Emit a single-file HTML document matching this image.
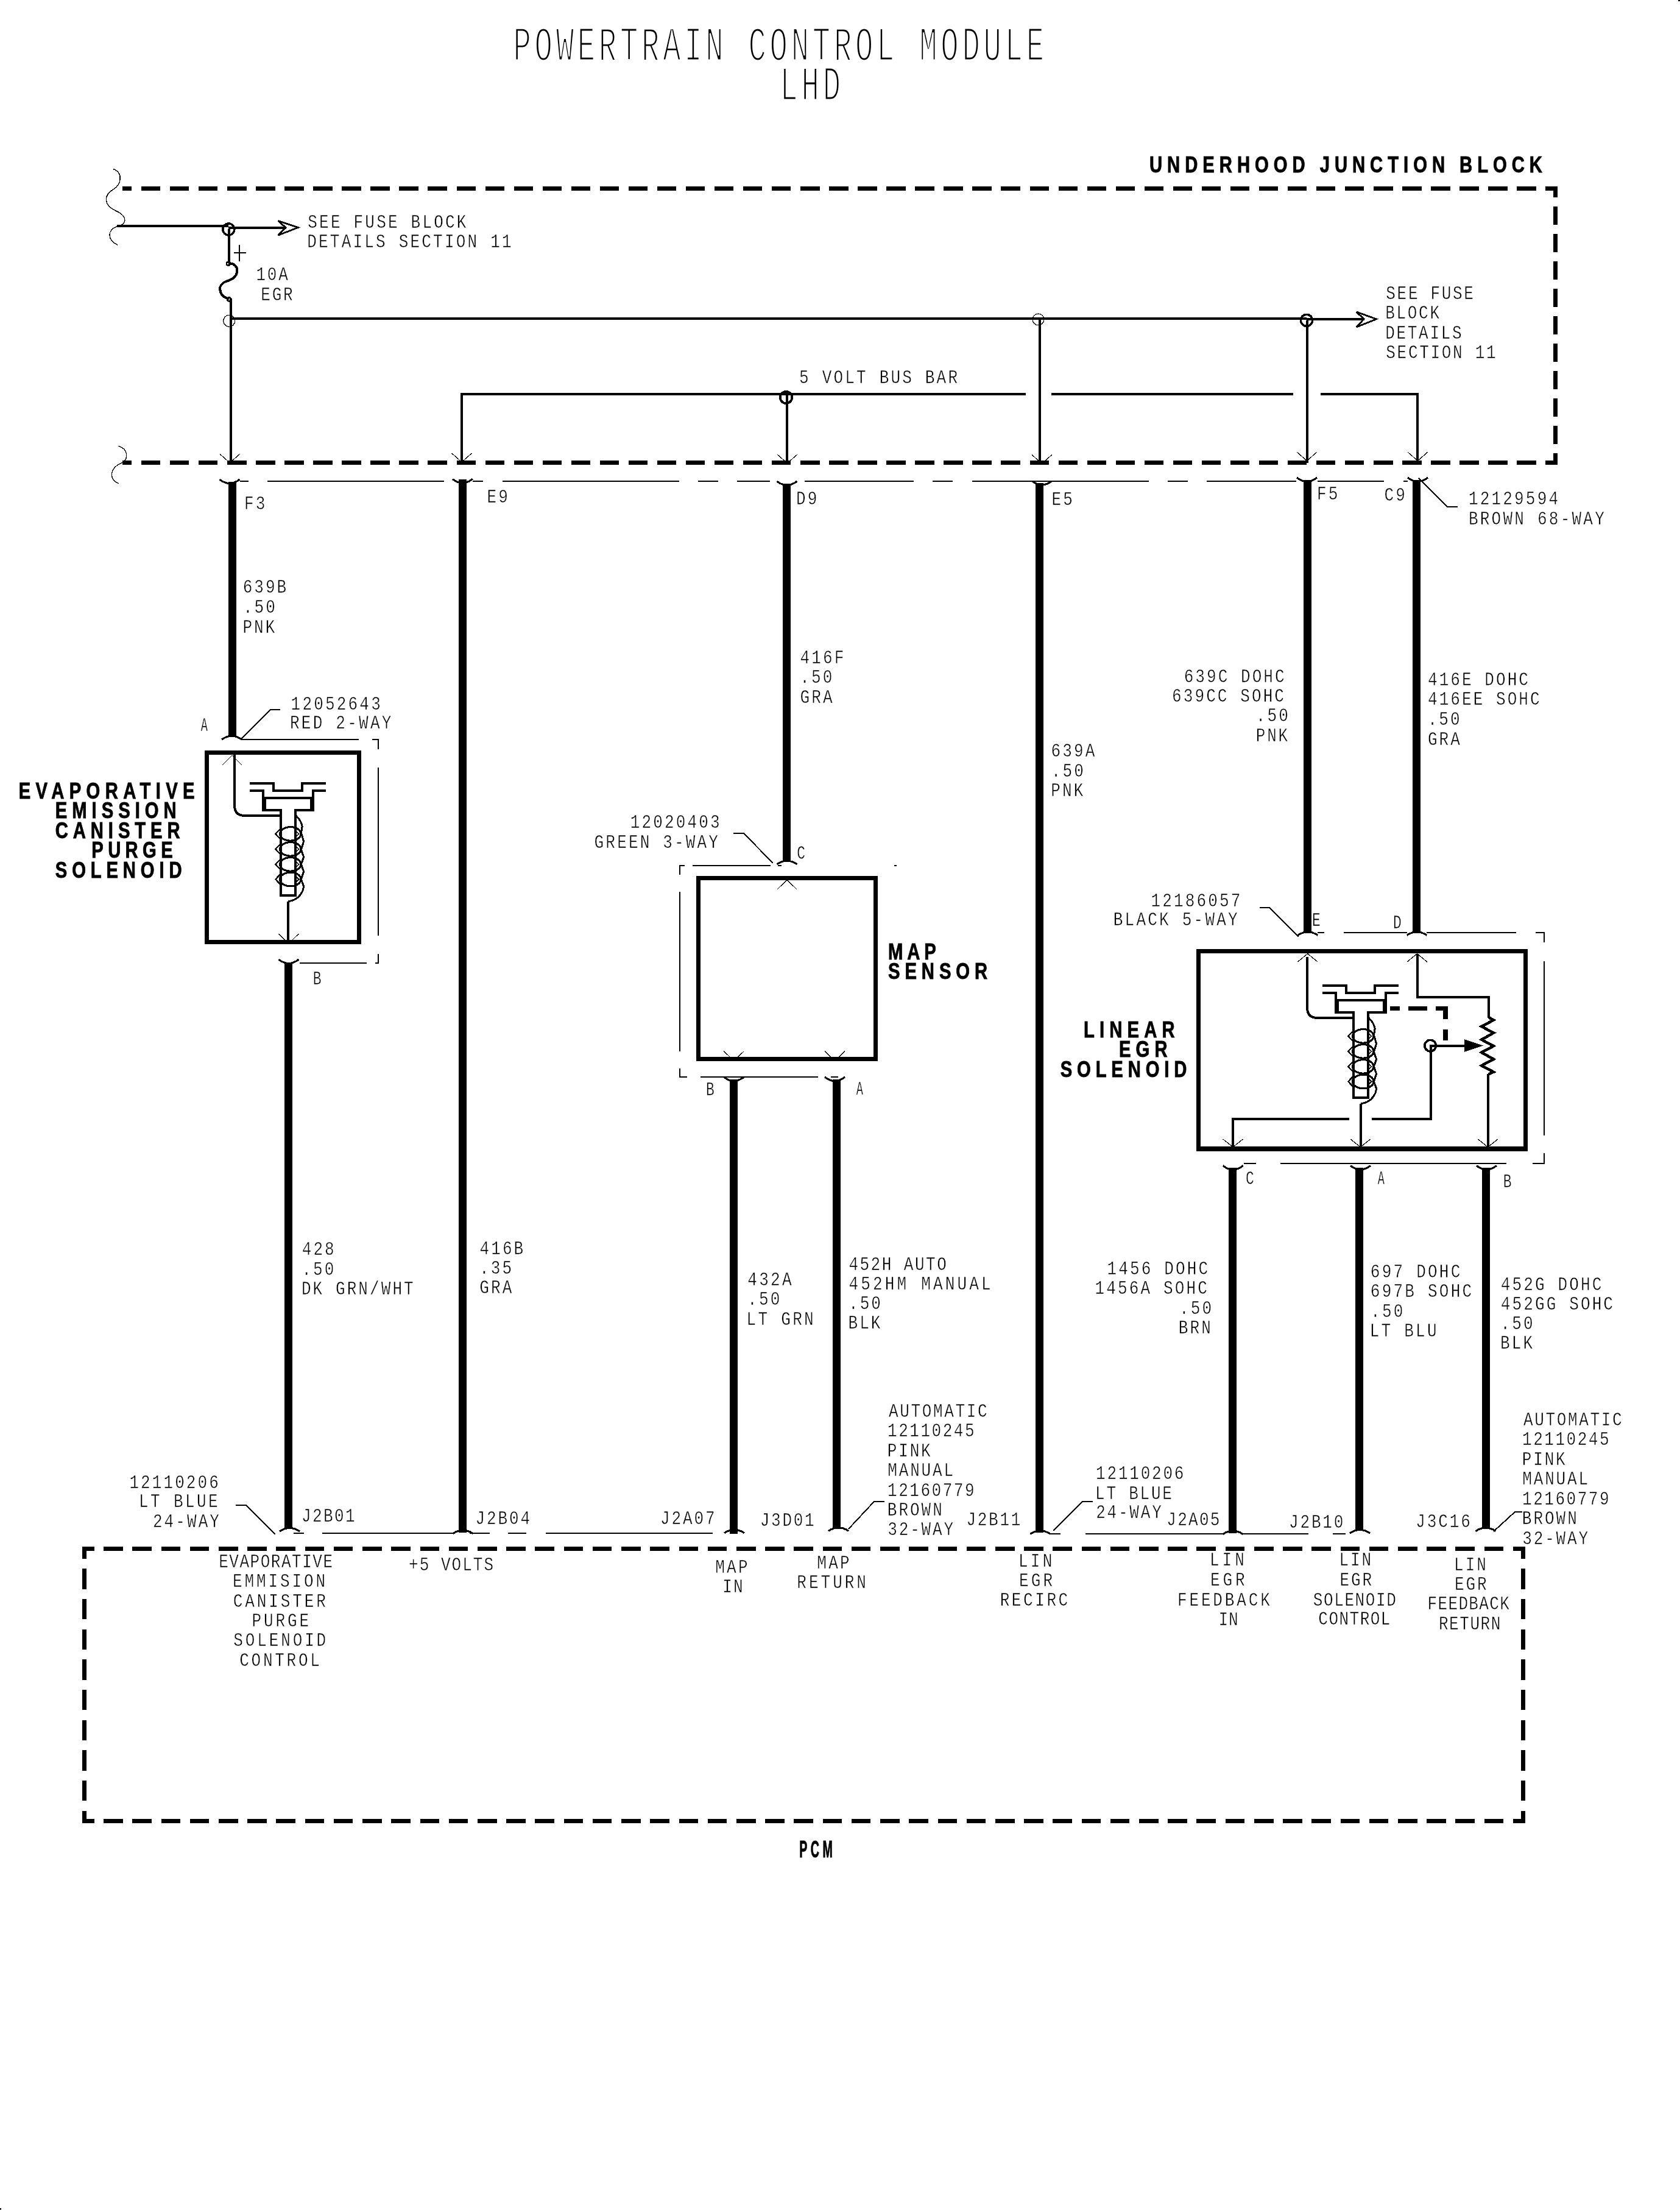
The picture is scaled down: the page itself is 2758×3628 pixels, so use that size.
<!DOCTYPE html>
<html><head><meta charset="utf-8"><title>Powertrain Control Module LHD</title>
<style>
html,body{margin:0;padding:0;background:#fff}
svg{display:block;filter:grayscale(1)}
.ln path,.ln circle,.ln rect{fill:none;stroke:#000}
.dash path{fill:none;stroke:#000;stroke-width:7}
text{font-family:"Liberation Mono",monospace;fill:#000}
.m{font-size:31px;stroke:#fff;stroke-width:.5px}
.ttl text{font-size:79px;stroke:#fff;stroke-width:3.2px}
.b{font-family:"Liberation Sans",sans-serif;font-weight:bold;stroke:#000;stroke-width:.9px}
</style></head>
<body>
<svg width="2758" height="3628" viewBox="0 0 2758 3628">
<rect width="2758" height="3628" fill="#fff"/>
<g class="ttl">
<text x="0" y="0" transform="translate(842.5 99.4) scale(0.62 1)" letter-spacing="9.2">POWERTRAIN CONTROL MODULE</text>
<text x="0" y="0" transform="translate(1280.5 163.5) scale(0.62 1)" letter-spacing="9.2">LHD</text>
</g>
<g class="dash" shape-rendering="crispEdges">
<path d="M200.6 309.4H2556.7" stroke-dasharray="31.4 15.65" stroke-dashoffset="15.7"/>
<path d="M200.6 759.5H2556.7" stroke-dasharray="31.4 15.65" stroke-dashoffset="15.7"/>
<path d="M2553.2 305.9V763" stroke-width="7.6" stroke-dasharray="30 15" stroke-dashoffset="11.5"/>
<path d="M135.2 2542.3H2503.8" stroke-dasharray="31.6 15.62" stroke-dashoffset="12.3"/>
<path d="M135.2 2989.3H2503.8" stroke-dasharray="31.6 15.62" stroke-dashoffset="12.3"/>
<path d="M138.7 2538.8V2992.8" stroke-dasharray="33.6 16.07" stroke-dashoffset="13.3"/>
<path d="M2500 2538.8V2992.8" stroke-width="7.8" stroke-dasharray="33.6 16.07" stroke-dashoffset="13.3"/>
</g>
<text class="b" transform="translate(1887.0 283.4) scale(0.78 1)" font-size="37.5" textLength="826.9" lengthAdjust="spacing">UNDERHOOD JUNCTION BLOCK</text>
<text class="b" transform="translate(30.7 1310.6) scale(0.78 1)" font-size="37.5" textLength="370.3" lengthAdjust="spacing">EVAPORATIVE</text>
<text class="b" transform="translate(90.8 1343.2) scale(0.78 1)" font-size="37.5" textLength="255.0" lengthAdjust="spacing">EMISSION</text>
<text class="b" transform="translate(90.8 1375.8) scale(0.78 1)" font-size="37.5" textLength="262.6" lengthAdjust="spacing">CANISTER</text>
<text class="b" transform="translate(150.3 1408.4) scale(0.78 1)" font-size="37.5" textLength="171.0" lengthAdjust="spacing">PURGE</text>
<text class="b" transform="translate(90.8 1441.0) scale(0.78 1)" font-size="37.5" textLength="266.4" lengthAdjust="spacing">SOLENOID</text>
<text class="b" transform="translate(1458.0 1574.8) scale(0.78 1)" font-size="37.5" textLength="100.9" lengthAdjust="spacing">MAP</text>
<text class="b" transform="translate(1458.0 1607.3) scale(0.78 1)" font-size="37.5" textLength="209.2" lengthAdjust="spacing">SENSOR</text>
<text class="b" transform="translate(1779.1 1702.8) scale(0.78 1)" font-size="37.5" textLength="191.7" lengthAdjust="spacing">LINEAR</text>
<text class="b" transform="translate(1836.9 1735.4) scale(0.78 1)" font-size="37.5" textLength="102.3" lengthAdjust="spacing">EGR</text>
<text class="b" transform="translate(1740.8 1768.1) scale(0.78 1)" font-size="37.5" textLength="266.0" lengthAdjust="spacing">SOLENOID</text>
<text class="b" transform="translate(1312.3 3049) scale(0.5 1)" font-size="39.2" letter-spacing="11">PCM</text>
<g class="ln" shape-rendering="crispEdges">
<path d="M185.7 277.4C203 284 199 303 186 311C168 322 172 338 190 346C212 356 207 369 191.7 372C176 377 176 395 193 402" stroke-width="1.4"/>
<path d="M194.6 732C211 738 211 753 200.6 759.5C180 768 178 786 194.6 793.8" stroke-width="1.4"/>
<path d="M192 371L375 371" stroke-width="4"/>
<circle cx="375.3" cy="376.5" r="9.5" stroke-width="3.5"/>
<path d="M375 374L470 374" stroke-width="4"/>
<path d="M489.3 373.5L456.5 362.5L469 373.5L456.5 386.3Z" stroke-width="2.8"/>
<path d="M376 376L376 430" stroke-width="4"/>
<path d="M375 432C384 432 390.5 438 389.3 446C388 455 380 459 374.4 460.9C367 463 360 468 361.3 476C362.5 484.5 369 489 376 490.5" stroke-width="4"/>
<circle cx="374.8" cy="433" r="2.9" stroke-width="2.7"/><circle cx="376.1" cy="491.4" r="2.9" stroke-width="2.7"/>
<path d="M379 490L379 760" stroke-width="4"/>
<circle cx="376.2" cy="526.8" r="9.5" stroke-width="1.3"/>
<path d="M393 402V429M384 415H404" stroke-width="2"/>
<path d="M379 523L2145 523" stroke-width="4"/>
<circle cx="2145" cy="525.9" r="9.6" stroke-width="3.5"/>
<path d="M2145 524L2240 524" stroke-width="4"/>
<path d="M2259.5 523.8L2226.8 512L2239 523.8L2226.8 537Z" stroke-width="2.8"/>
<path d="M2146 526L2146 760" stroke-width="4"/>
<circle cx="1704.5" cy="524.4" r="9.4" stroke-width="1.3"/>
<path d="M1707 523L1707 762" stroke-width="4"/>
<path d="M758 761V647H1684M1726 647H2123M2168 647H2327V760" stroke-width="4"/>
<circle cx="1290.5" cy="652.5" r="9.7" stroke-width="3.6"/>
<path d="M1292 647L1292 762" stroke-width="4"/>
<path d="M360.8 745.2L377.3 759.7L393.8 745.2" stroke-width="1.2"/>
<path d="M741.5 744L758 758.5L774.5 744" stroke-width="1.2"/>
<path d="M1276 746L1292.5 760.5L1309 746" stroke-width="1.2"/>
<path d="M1693.9 746.5L1710.4 761L1726.9 746.5" stroke-width="1.2"/>
<path d="M2129 742L2145.5 756.5L2162 742" stroke-width="1.2"/>
<path d="M2310.9 742L2327.4 756.5L2343.9 742" stroke-width="1.2"/>
<path d="M394 790H408M439 790H729M776 790H793M825 790H1115M1146 790H1179M1210 790H1264M1321 790H1500M1531 790H1564M1596 790H1886M1917 790H1950M1981 790H2128M2163 790H2272M2304 790H2311" stroke-width="2"/>
<path d="M2329 785L2376 832H2393" stroke-width="2"/>
<path d="M360.5 787Q377 800 393.5 787" stroke-width="3.1"/>
<path d="M742.9 786.3Q759.4 799.3 775.9 786.3" stroke-width="3.1"/>
<path d="M1275.5 790Q1292 803 1308.5 790" stroke-width="3.1"/>
<path d="M1694 789.5Q1710.5 802.5 1727 789.5" stroke-width="3.1"/>
<path d="M2129 784Q2145.5 797 2162 784" stroke-width="3.1"/>
<path d="M2311 784Q2327.5 797 2344 784" stroke-width="3.1"/>
<path d="M381.9 791V1210" stroke-width="13"/>
<path d="M759.4 787V2516" stroke-width="13"/>
<path d="M1291.5 794V1414" stroke-width="13"/>
<path d="M1706.2 793V2516" stroke-width="13"/>
<path d="M2146.8 788V1531" stroke-width="13"/>
<path d="M2325.3 788V1531" stroke-width="13"/>
<path d="M473 1581V2510" stroke-width="13"/>
<path d="M1204.2 1772V2518" stroke-width="13"/>
<path d="M1373.8 1772V2510" stroke-width="13"/>
<path d="M2023.6 1917V2517" stroke-width="13"/>
<path d="M2231.2 1917V2512" stroke-width="13"/>
<path d="M2439 1917V2510" stroke-width="13"/>
<rect x="339.5" y="1235.5" width="250" height="311" stroke-width="7"/>
<path d="M364 1213.8Q380.5 1202.8 397 1213.8" stroke-width="3.1"/>
<path d="M396 1213L444 1165H460" stroke-width="2"/>
<path d="M396 1214H589M611 1214H621V1230M621 1260V1536M621 1566V1581H616M602 1581H492" stroke-width="2"/>
<path d="M364.5 1256.4L381 1240L397.5 1256.4" stroke-width="1.2"/>
<path d="M457.5 1575Q474 1588 490.5 1575" stroke-width="3.1"/>
<path d="M457.3 1533L473.8 1549L490.3 1533" stroke-width="1.2"/>
<rect x="1146.5" y="1441.5" width="291" height="297" stroke-width="7"/>
<path d="M1275.5 1418.7Q1292 1407.7 1308.5 1418.7" stroke-width="3.1"/>
<path d="M1204 1368H1221L1269 1417" stroke-width="2"/>
<path d="M1283 1421H1277M1265 1421H1137M1124 1421H1116V1436M1116 1464V1726M1116 1754V1768H1128M1150 1768H1343M1364 1768H1376M1468 1421H1472" stroke-width="2"/>
<path d="M1275.5 1460.4L1292 1444.6L1308.5 1460.4" stroke-width="1.2"/>
<path d="M1188.3 1725.7L1204.8 1741.5L1221.3 1725.7" stroke-width="1.2"/>
<path d="M1354 1725.7L1370.5 1741.5L1387 1725.7" stroke-width="1.2"/>
<path d="M1188.3 1768.1Q1204.8 1781.1 1221.3 1768.1" stroke-width="3.1"/>
<path d="M1354 1768.1Q1370.5 1781.1 1387 1768.1" stroke-width="3.1"/>
<rect x="1967.5" y="1561.5" width="537" height="324.5" stroke-width="7.4"/>
<path d="M2130.5 1535.4Q2147 1524.4 2163.5 1535.4" stroke-width="3.1"/>
<path d="M2309.5 1535.4Q2326 1524.4 2342.5 1535.4" stroke-width="3.1"/>
<path d="M2068 1490H2084L2132 1538" stroke-width="2"/>
<path d="M2163 1531H2174M2206 1531H2310M2342 1531H2489M2521 1531H2535V1547M2535 1578V1864M2535 1893V1910H2516M2473 1910H2102M2062 1910H2042" stroke-width="2"/>
<path d="M2007.6 1913.6Q2024.1 1926.6 2040.6 1913.6" stroke-width="3.1"/>
<path d="M2217 1913.6Q2233.5 1926.6 2250 1913.6" stroke-width="3.1"/>
<path d="M2424 1913.6Q2440.5 1926.6 2457 1913.6" stroke-width="3.1"/>
<path d="M2130.2 1579.1L2146.7 1565.6L2163.2 1579.1" stroke-width="1.2"/>
<path d="M2309.9 1579.1L2326.4 1565.6L2342.9 1579.1" stroke-width="1.2"/>
<path d="M2007.6 1870L2024.1 1883L2040.6 1870" stroke-width="1.2"/>
<path d="M2216.9 1870L2233.4 1883L2249.9 1870" stroke-width="1.2"/>
<path d="M2426.1 1870L2442.6 1883L2459.1 1870" stroke-width="1.2"/>
<g><path d="M385 1239V1322Q385 1339 402 1339H460" stroke-width="4"/><path d="M410 1286H449V1298H496V1286H535" stroke-width="4"/><path d="M410 1298H432V1330M535 1298H514V1330" stroke-width="4"/><path d="M432 1310H514" stroke-width="4"/><path d="M433.4 1310V1329.6M512.6 1310V1329.6" stroke-width="6.6"/><path d="M430 1330H461V1470H485V1330H516" stroke-width="4"/><ellipse cx="476.8" cy="1368.9" rx="17.3" ry="11.3" stroke-width="3.2" style="fill:none;stroke:#000"/><path d="M460 1360.9L452.3 1368.9L460 1376.9" stroke-width="2.4"/><path d="M486.5 1364.9L490.5 1368.9L486.5 1372.9" stroke-width="1.6"/><ellipse cx="476.8" cy="1393.9" rx="17.3" ry="11.3" stroke-width="3.2" style="fill:none;stroke:#000"/><path d="M460 1385.9L452.3 1393.9L460 1401.9" stroke-width="2.4"/><path d="M486.5 1389.9L490.5 1393.9L486.5 1397.9" stroke-width="1.6"/><ellipse cx="476.8" cy="1418.9" rx="17.3" ry="11.3" stroke-width="3.2" style="fill:none;stroke:#000"/><path d="M460 1410.9L452.3 1418.9L460 1426.9" stroke-width="2.4"/><path d="M486.5 1414.9L490.5 1418.9L486.5 1422.9" stroke-width="1.6"/><ellipse cx="476.8" cy="1443.5" rx="17.3" ry="11.3" stroke-width="3.2" style="fill:none;stroke:#000"/><path d="M460 1435.5L452.3 1443.5L460 1451.5" stroke-width="2.4"/><path d="M486.5 1439.5L490.5 1443.5L486.5 1447.5" stroke-width="1.6"/><path d="M485.5 1338.6Q494 1346 496.2 1356.4L494.4 1367.1L498.6 1381.4L494.4 1394.5L498.6 1407L494.4 1418.9L498.6 1430.8L494.4 1443.3L498.6 1455.2Q497 1469 484.3 1476.5Q479 1479.4 473.2 1479.6" stroke-width="3"/></g>
<path d="M473 1480L473 1547" stroke-width="4"/>
<g transform="translate(1761 332)"><path d="M385 1239V1322Q385 1339 402 1339H460" stroke-width="4"/><path d="M410 1286H449V1298H496V1286H535" stroke-width="4"/><path d="M410 1298H432V1330M535 1298H514V1330" stroke-width="4"/><path d="M432 1310H514" stroke-width="4"/><path d="M433.4 1310V1329.6M512.6 1310V1329.6" stroke-width="6.6"/><path d="M430 1330H461V1470H485V1330H516" stroke-width="4"/><ellipse cx="476.8" cy="1368.9" rx="17.3" ry="11.3" stroke-width="3.2" style="fill:none;stroke:#000"/><path d="M460 1360.9L452.3 1368.9L460 1376.9" stroke-width="2.4"/><path d="M486.5 1364.9L490.5 1368.9L486.5 1372.9" stroke-width="1.6"/><ellipse cx="476.8" cy="1393.9" rx="17.3" ry="11.3" stroke-width="3.2" style="fill:none;stroke:#000"/><path d="M460 1385.9L452.3 1393.9L460 1401.9" stroke-width="2.4"/><path d="M486.5 1389.9L490.5 1393.9L486.5 1397.9" stroke-width="1.6"/><ellipse cx="476.8" cy="1418.9" rx="17.3" ry="11.3" stroke-width="3.2" style="fill:none;stroke:#000"/><path d="M460 1410.9L452.3 1418.9L460 1426.9" stroke-width="2.4"/><path d="M486.5 1414.9L490.5 1418.9L486.5 1422.9" stroke-width="1.6"/><ellipse cx="476.8" cy="1443.5" rx="17.3" ry="11.3" stroke-width="3.2" style="fill:none;stroke:#000"/><path d="M460 1435.5L452.3 1443.5L460 1451.5" stroke-width="2.4"/><path d="M486.5 1439.5L490.5 1443.5L486.5 1447.5" stroke-width="1.6"/><path d="M485.5 1338.6Q494 1346 496.2 1356.4L494.4 1367.1L498.6 1381.4L494.4 1394.5L498.6 1407L494.4 1418.9L498.6 1430.8L494.4 1443.3L498.6 1455.2Q497 1469 484.3 1476.5Q479 1479.4 473.2 1479.6" stroke-width="3"/></g>
<path d="M2234 1812L2234 1883" stroke-width="4"/>
<path d="M2327 1566V1637H2444V1671" stroke-width="4"/>
<path d="M2444 1670.1L2451.9 1674.6L2432.2 1685.1L2451.9 1695.6L2432.2 1706.7L2451.9 1717.2L2432.2 1727.7L2451.9 1738.8L2432.2 1749.3L2451.9 1759.8L2443.3 1763.7" stroke-width="4.6" stroke-linejoin="miter"/>
<path d="M2443 1763L2443 1883" stroke-width="4"/>
<path d="M2282 1655.4H2298M2312.1 1655.4H2342.9M2356.9 1655.4H2376.8" stroke-width="7.2"/>
<path d="M2373 1652V1672.7M2373 1690.1V1707.8" stroke-width="7.6"/>
<circle cx="2348.1" cy="1716.6" r="9.3" stroke-width="3.6"/>
<path d="M2348 1717L2406 1717" stroke-width="4"/>
<path d="M2404 1706.8L2433.5 1716.6L2404 1726.4Z" style="fill:#000" stroke-width="1"/>
<path d="M2349 1715V1837H2252M2215 1837H2024V1883" stroke-width="4"/>
<path d="M459 2514Q475.5 2503 492 2514" stroke-width="3.1"/>
<path d="M743.5 2517.5Q760 2506.5 776.5 2517.5" stroke-width="3.1"/>
<path d="M1189 2516.7Q1205.5 2505.7 1222 2516.7" stroke-width="3.1"/>
<path d="M1360 2513.3Q1376.5 2502.3 1393 2513.3" stroke-width="3.1"/>
<path d="M1691.3 2518.3Q1707.8 2507.3 1724.3 2518.3" stroke-width="3.1"/>
<path d="M2007.5 2518.5Q2024 2507.5 2040.5 2518.5" stroke-width="3.1"/>
<path d="M2216 2517Q2232.5 2506 2249 2517" stroke-width="3.1"/>
<path d="M2422.5 2513.5Q2439 2502.5 2455.5 2513.5" stroke-width="3.1"/>
<path d="M387 2471H404L452 2519" stroke-width="2"/>
<path d="M482 2517H499M529 2517H744M771 2517H804M834 2517H864M896 2517H1170" stroke-width="2"/>
<path d="M1393 2510L1435 2465H1452" stroke-width="2"/>
<path d="M1729 2513L1777 2465H1794" stroke-width="2"/>
<path d="M1724 2518H1741M1782 2518H2008M2040 2518H2148M2188 2518H2209" stroke-width="2"/>
<path d="M2452 2514L2487 2482H2499" stroke-width="2"/>
</g>
<rect x="2755" y="0" width="3" height="2"/><rect x="0" y="3625" width="2" height="2.5"/>
<text class="m" transform="translate(505.3 373.5) scale(0.84 1)" letter-spacing="3.80">SEE FUSE BLOCK</text>
<text class="m" transform="translate(504.2 405.7) scale(0.84 1)" letter-spacing="3.80">DETAILS SECTION 11</text>
<text class="m" transform="translate(420.4 459.8) scale(0.84 1)" letter-spacing="3.30">10A</text>
<text class="m" transform="translate(428.3 492.6) scale(0.84 1)" letter-spacing="3.30">EGR</text>
<text class="m" transform="translate(1312.1 628.9) scale(0.84 1)" letter-spacing="3.78">5 VOLT BUS BAR</text>
<text class="m" transform="translate(2275.3 490.7) scale(0.84 1)" letter-spacing="3.19">SEE FUSE</text>
<text class="m" transform="translate(2274.2 523.1) scale(0.84 1)" letter-spacing="3.19">BLOCK</text>
<text class="m" transform="translate(2274.2 555.6) scale(0.84 1)" letter-spacing="3.19">DETAILS</text>
<text class="m" transform="translate(2275.3 588.0) scale(0.84 1)" letter-spacing="3.19">SECTION 11</text>
<text class="m" transform="translate(401.1 836.0) scale(0.84 1)" letter-spacing="3.72">F3</text>
<text class="m" transform="translate(799.4 825.3) scale(0.84 1)" letter-spacing="3.72">E9</text>
<text class="m" transform="translate(1307.1 827.7) scale(0.84 1)" letter-spacing="3.72">D9</text>
<text class="m" transform="translate(1726.5 828.6) scale(0.84 1)" letter-spacing="3.72">E5</text>
<text class="m" transform="translate(2162.1 820.0) scale(0.84 1)" letter-spacing="3.72">F5</text>
<text class="m" transform="translate(2272.4 822.0) scale(0.84 1)" letter-spacing="3.72">C9</text>
<text class="m" transform="translate(2410.9 828.0) scale(0.84 1)" letter-spacing="3.78">12129594</text>
<text class="m" transform="translate(2410.9 860.5) scale(0.84 1)" letter-spacing="3.84">BROWN 68-WAY</text>
<text class="m" transform="translate(398.7 973.2) scale(0.84 1)" letter-spacing="3.54">639B</text>
<text class="m" transform="translate(399.0 1005.9) scale(0.84 1)" letter-spacing="3.54">.50</text>
<text class="m" transform="translate(398.5 1038.6) scale(0.84 1)" letter-spacing="3.54">PNK</text>
<text class="m" transform="translate(1313.6 1089.0) scale(0.84 1)" letter-spacing="3.72">416F</text>
<text class="m" transform="translate(1313.3 1121.3) scale(0.84 1)" letter-spacing="3.72">.50</text>
<text class="m" transform="translate(1313.5 1153.6) scale(0.84 1)" letter-spacing="3.72">GRA</text>
<text class="m" transform="translate(1725.5 1242.0) scale(0.84 1)" letter-spacing="3.72">639A</text>
<text class="m" transform="translate(1725.8 1274.5) scale(0.84 1)" letter-spacing="3.72">.50</text>
<text class="m" transform="translate(1725.3 1307.0) scale(0.84 1)" letter-spacing="3.72">PNK</text>
<text class="m" transform="translate(1943.7 1119.8) scale(0.84 1)" letter-spacing="3.63">639C DOHC</text>
<text class="m" transform="translate(1924.1 1151.6) scale(0.84 1)" letter-spacing="3.66">639CC SOHC</text>
<text class="m" transform="translate(2061.8 1184.4) scale(0.84 1)" letter-spacing="3.66">.50</text>
<text class="m" transform="translate(2061.7 1216.5) scale(0.84 1)" letter-spacing="3.36">PNK</text>
<text class="m" transform="translate(2344.0 1124.8) scale(0.84 1)" letter-spacing="3.63">416E DOHC</text>
<text class="m" transform="translate(2344.0 1157.3) scale(0.84 1)" letter-spacing="3.63">416EE SOHC</text>
<text class="m" transform="translate(2343.7 1190.0) scale(0.84 1)" letter-spacing="3.63">.50</text>
<text class="m" transform="translate(2343.9 1222.5) scale(0.84 1)" letter-spacing="3.63">GRA</text>
<text class="m" transform="translate(477.6 1164.8) scale(0.84 1)" letter-spacing="3.78">12052643</text>
<text class="m" transform="translate(476.0 1196.4) scale(0.84 1)" letter-spacing="3.84">RED 2-WAY</text>
<text class="m" transform="translate(1034.7 1358.5) scale(0.84 1)" letter-spacing="3.76">12020403</text>
<text class="m" transform="translate(975.6 1391.8) scale(0.84 1)" letter-spacing="3.76">GREEN 3-WAY</text>
<text class="m" transform="translate(1889.6 1487.6) scale(0.84 1)" letter-spacing="3.72">12186057</text>
<text class="m" transform="translate(1827.7 1519.0) scale(0.84 1)" letter-spacing="3.84">BLACK 5-WAY</text>
<text class="m" transform="translate(495.7 2060.2) scale(0.84 1)" letter-spacing="3.66">428</text>
<text class="m" transform="translate(495.4 2092.5) scale(0.84 1)" letter-spacing="3.66">.50</text>
<text class="m" transform="translate(494.9 2124.8) scale(0.84 1)" letter-spacing="3.66">DK GRN/WHT</text>
<text class="m" transform="translate(787.4 2059.0) scale(0.84 1)" letter-spacing="3.72">416B</text>
<text class="m" transform="translate(787.1 2091.2) scale(0.84 1)" letter-spacing="3.72">.35</text>
<text class="m" transform="translate(787.3 2123.4) scale(0.84 1)" letter-spacing="3.72">GRA</text>
<text class="m" transform="translate(1227.3 2109.6) scale(0.84 1)" letter-spacing="3.90">432A</text>
<text class="m" transform="translate(1227.0 2142.3) scale(0.84 1)" letter-spacing="3.90">.50</text>
<text class="m" transform="translate(1225.6 2175.0) scale(0.84 1)" letter-spacing="3.90">LT GRN</text>
<text class="m" transform="translate(1393.4 2084.6) scale(0.84 1)" letter-spacing="2.95">452H AUTO</text>
<text class="m" transform="translate(1393.4 2116.8) scale(0.84 1)" letter-spacing="4.97">452HM MANUAL</text>
<text class="m" transform="translate(1393.1 2149.2) scale(0.84 1)" letter-spacing="3.54">.50</text>
<text class="m" transform="translate(1392.6 2181.0) scale(0.84 1)" letter-spacing="3.54">BLK</text>
<text class="m" transform="translate(1817.6 2091.6) scale(0.84 1)" letter-spacing="3.72">1456 DOHC</text>
<text class="m" transform="translate(1797.6 2123.8) scale(0.84 1)" letter-spacing="3.72">1456A SOHC</text>
<text class="m" transform="translate(1935.9 2156.9) scale(0.84 1)" letter-spacing="3.72">.50</text>
<text class="m" transform="translate(1934.8 2188.8) scale(0.84 1)" letter-spacing="3.72">BRN</text>
<text class="m" transform="translate(2249.8 2097.0) scale(0.84 1)" letter-spacing="3.84">697 DOHC</text>
<text class="m" transform="translate(2249.8 2129.4) scale(0.84 1)" letter-spacing="3.84">697B SOHC</text>
<text class="m" transform="translate(2250.1 2161.9) scale(0.84 1)" letter-spacing="3.84">.50</text>
<text class="m" transform="translate(2248.7 2194.3) scale(0.84 1)" letter-spacing="3.84">LT BLU</text>
<text class="m" transform="translate(2463.7 2117.5) scale(0.84 1)" letter-spacing="3.72">452G DOHC</text>
<text class="m" transform="translate(2463.7 2149.8) scale(0.84 1)" letter-spacing="3.72">452GG SOHC</text>
<text class="m" transform="translate(2463.4 2182.1) scale(0.84 1)" letter-spacing="3.72">.50</text>
<text class="m" transform="translate(2462.9 2214.4) scale(0.84 1)" letter-spacing="3.72">BLK</text>
<text class="m" transform="translate(329.8 1199.5) scale(0.6 1)">A</text>
<text class="m" transform="translate(513.7 1616.2) scale(0.74 1)">B</text>
<text class="m" transform="translate(1308.2 1410.4) scale(0.74 1)">C</text>
<text class="m" transform="translate(1158.9 1797.9) scale(0.74 1)">B</text>
<text class="m" transform="translate(1405.7 1796.7) scale(0.6 1)">A</text>
<text class="m" transform="translate(2154.1 1519.9) scale(0.74 1)">E</text>
<text class="m" transform="translate(2286.9 1524.3) scale(0.74 1)">D</text>
<text class="m" transform="translate(2045.0 1944.2) scale(0.74 1)">C</text>
<text class="m" transform="translate(2261.8 1944.2) scale(0.6 1)">A</text>
<text class="m" transform="translate(2467.8 1948.7) scale(0.74 1)">B</text>
<text class="m" transform="translate(212.4 2442.9) scale(0.84 1)" letter-spacing="3.66">12110206</text>
<text class="m" transform="translate(228.0 2474.4) scale(0.84 1)" letter-spacing="4.02">LT BLUE</text>
<text class="m" transform="translate(250.9 2506.5) scale(0.84 1)" letter-spacing="3.66">24-WAY</text>
<text class="m" transform="translate(495.1 2497.6) scale(0.84 1)" letter-spacing="2.83">J2B01</text>
<text class="m" transform="translate(780.5 2501.8) scale(0.84 1)" letter-spacing="3.42">J2B04</text>
<text class="m" transform="translate(1084.1 2501.8) scale(0.84 1)" letter-spacing="3.42">J2A07</text>
<text class="m" transform="translate(1247.8 2505.0) scale(0.84 1)" letter-spacing="3.19">J3D01</text>
<text class="m" transform="translate(1586.5 2503.7) scale(0.84 1)" letter-spacing="3.19">J2B11</text>
<text class="m" transform="translate(1915.3 2503.6) scale(0.84 1)" letter-spacing="2.71">J2A05</text>
<text class="m" transform="translate(2115.9 2507.7) scale(0.84 1)" letter-spacing="3.42">J2B10</text>
<text class="m" transform="translate(2324.3 2506.5) scale(0.84 1)" letter-spacing="3.42">J3C16</text>
<text class="m" transform="translate(1458.9 2325.7) scale(0.84 1)" letter-spacing="3.14">AUTOMATIC</text>
<text class="m" transform="translate(1457.0 2358.1) scale(0.84 1)" letter-spacing="3.01">12110245</text>
<text class="m" transform="translate(1456.8 2390.6) scale(0.84 1)" letter-spacing="3.36">PINK</text>
<text class="m" transform="translate(1457.3 2423.0) scale(0.84 1)" letter-spacing="3.36">MANUAL</text>
<text class="m" transform="translate(1457.0 2455.5) scale(0.84 1)" letter-spacing="3.01">12160779</text>
<text class="m" transform="translate(1456.8 2487.9) scale(0.84 1)" letter-spacing="3.54">BROWN</text>
<text class="m" transform="translate(1457.3 2520.4) scale(0.84 1)" letter-spacing="3.36">32-WAY</text>
<text class="m" transform="translate(2500.9 2339.9) scale(0.84 1)" letter-spacing="3.14">AUTOMATIC</text>
<text class="m" transform="translate(2499.0 2372.3) scale(0.84 1)" letter-spacing="3.01">12110245</text>
<text class="m" transform="translate(2498.8 2404.8) scale(0.84 1)" letter-spacing="3.36">PINK</text>
<text class="m" transform="translate(2499.3 2437.2) scale(0.84 1)" letter-spacing="3.36">MANUAL</text>
<text class="m" transform="translate(2499.0 2469.7) scale(0.84 1)" letter-spacing="3.01">12160779</text>
<text class="m" transform="translate(2498.8 2502.2) scale(0.84 1)" letter-spacing="3.54">BROWN</text>
<text class="m" transform="translate(2499.3 2534.6) scale(0.84 1)" letter-spacing="3.36">32-WAY</text>
<text class="m" transform="translate(1799.1 2428.0) scale(0.84 1)" letter-spacing="3.30">12110206</text>
<text class="m" transform="translate(1798.0 2460.5) scale(0.84 1)" letter-spacing="3.30">LT BLUE</text>
<text class="m" transform="translate(1799.2 2492.0) scale(0.84 1)" letter-spacing="3.30">24-WAY</text>
<text class="m" transform="translate(359.2 2572.9) scale(0.84 1)" letter-spacing="1.80">EVAPORATIVE</text>
<text class="m" transform="translate(382.1 2605.4) scale(0.84 1)" letter-spacing="4.61">EMMISION</text>
<text class="m" transform="translate(382.8 2637.5) scale(0.84 1)" letter-spacing="4.61">CANISTER</text>
<text class="m" transform="translate(413.4 2670.0) scale(0.84 1)" letter-spacing="4.67">PURGE</text>
<text class="m" transform="translate(383.2 2702.4) scale(0.84 1)" letter-spacing="4.61">SOLENOID</text>
<text class="m" transform="translate(393.2 2735.0) scale(0.84 1)" letter-spacing="4.44">CONTROL</text>
<text class="m" transform="translate(671.1 2578.0) scale(0.84 1)" letter-spacing="2.39">+5 VOLTS</text>
<text class="m" transform="translate(1174.2 2582.0) scale(0.84 1)" letter-spacing="3.84">MAP</text>
<text class="m" transform="translate(1186.2 2614.2) scale(0.84 1)" letter-spacing="2.47">IN</text>
<text class="m" transform="translate(1341.3 2575.0) scale(0.84 1)" letter-spacing="3.84">MAP</text>
<text class="m" transform="translate(1308.3 2607.0) scale(0.84 1)" letter-spacing="4.76">RETURN</text>
<text class="m" transform="translate(1672.0 2571.7) scale(0.84 1)" letter-spacing="5.03">LIN</text>
<text class="m" transform="translate(1672.9 2604.2) scale(0.84 1)" letter-spacing="5.03">EGR</text>
<text class="m" transform="translate(1641.7 2636.3) scale(0.84 1)" letter-spacing="4.23">RECIRC</text>
<text class="m" transform="translate(1986.0 2570.2) scale(0.84 1)" letter-spacing="5.92">LIN</text>
<text class="m" transform="translate(1986.9 2603.0) scale(0.84 1)" letter-spacing="5.92">EGR</text>
<text class="m" transform="translate(1932.9 2635.7) scale(0.84 1)" letter-spacing="4.61">FEEDBACK</text>
<text class="m" transform="translate(2000.6 2667.9) scale(0.84 1)" letter-spacing="0.80">IN</text>
<text class="m" transform="translate(2198.5 2570.2) scale(0.84 1)" letter-spacing="3.48">LIN</text>
<text class="m" transform="translate(2199.4 2603.0) scale(0.84 1)" letter-spacing="3.48">EGR</text>
<text class="m" transform="translate(2155.8 2635.7) scale(0.84 1)" letter-spacing="1.88">SOLENOID</text>
<text class="m" transform="translate(2164.3 2667.3) scale(0.84 1)" letter-spacing="1.76">CONTROL</text>
<text class="m" transform="translate(2387.1 2578.0) scale(0.84 1)" letter-spacing="3.48">LIN</text>
<text class="m" transform="translate(2388.0 2609.5) scale(0.84 1)" letter-spacing="3.48">EGR</text>
<text class="m" transform="translate(2343.6 2642.3) scale(0.84 1)" letter-spacing="1.57">FEEDBACK</text>
<text class="m" transform="translate(2361.9 2675.0) scale(0.84 1)" letter-spacing="1.85">RETURN</text>
</svg>
</body></html>
